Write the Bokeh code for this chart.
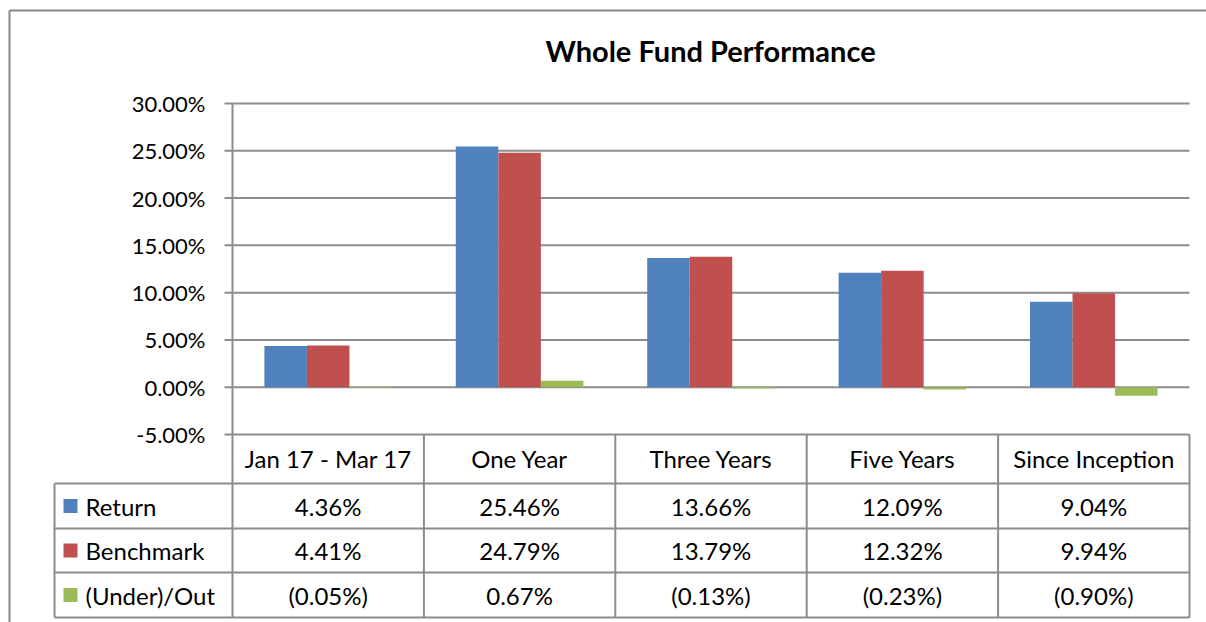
from bokeh.plotting import figure
from bokeh.models import Range1d
from bokeh.core.properties import value
from bokeh.embed import file_html
from bokeh.resources import INLINE

# ---------------- data ----------------
title = "Whole Fund Performance"
categories = ["Jan 17 - Mar 17", "One Year", "Three Years", "Five Years", "Since Inception"]
series_names = ["Return", "Benchmark", "(Under)/Out"]
return_vals = [4.36, 25.46, 13.66, 12.09, 9.04]
benchmark_vals = [4.41, 24.79, 13.79, 12.32, 9.94]
under_out_vals = [-0.05, 0.67, -0.13, -0.23, -0.90]
y_ticks = [-5, 0, 5, 10, 15, 20, 25, 30]
colors = ["#4F81BD", "#C0504D", "#9BBB59"]

# ---------------- layout ----------------
W, H = 1206, 622
X_LEFT = 232.0        # px of plot-area left edge
PX_PER_CAT = 191.4
Y_TOP = 103.0         # px of 30% line
PX_PER_PCT = 9.457
Y_MAX = 30.0
FONT = value("Lato")
GRID = "#8c8c8c"


def sx(px):
    return (px - X_LEFT) / PX_PER_CAT


def sy(py):
    return Y_MAX - (py - Y_TOP) / PX_PER_PCT


p = figure(width=W, height=H, output_backend="svg", toolbar_location=None,
           x_range=Range1d(sx(0), sx(W)), y_range=Range1d(sy(H), sy(0)),
           x_axis_location=None, y_axis_location=None, min_border=0,
           tools="")
p.grid.visible = False
p.outline_line_color = None
p.background_fill_color = "white"
p.border_fill_color = "white"

n = len(categories)
ymin, ymax = min(y_ticks), max(y_ticks)

# outer frame (left / top edges visible)
p.segment([sx(9)], [sy(H)], [sx(9)], [sy(10)], line_color="#888888", line_width=2)
p.segment([sx(9)], [sy(10)], [sx(W)], [sy(10)], line_color="#888888", line_width=2)

# gridlines and ticks
p.segment([0] * len(y_ticks), y_ticks, [n] * len(y_ticks), y_ticks,
          line_color=GRID, line_width=2)
p.segment([sx(X_LEFT - 8)] * len(y_ticks), y_ticks, [0] * len(y_ticks), y_ticks,
          line_color=GRID, line_width=2)
p.text(x=[sx(X_LEFT - 27)] * len(y_ticks), y=y_ticks,
       text=[f"{t:.2f}%" for t in y_ticks], text_align="right",
       text_baseline="middle", text_font=FONT, text_font_size="22px",
       text_color="black")

# bars
bw = 1 / 4.5
series = [return_vals, benchmark_vals, under_out_vals]
for k, vals in enumerate(series):
    xs = [i + 0.5 + (k - 1) * bw for i in range(n)]
    p.vbar(x=xs, width=bw, top=vals, bottom=0, fill_color=colors[k],
           line_color=None)

# axis line (vertical) through plot area and table
row_px = [Y_TOP + (Y_MAX - ymin) * PX_PER_PCT, 483, 528, 572, 617]
rows_y = [sy(r) for r in row_px]
p.segment([0], [ymax], [0], [rows_y[-1]], line_color=GRID, line_width=2)

# table verticals
for i in range(1, n + 1):
    p.segment([i], [ymin], [i], [rows_y[-1]], line_color=GRID, line_width=2)
leg_left = sx(54)
p.segment([leg_left], [rows_y[1]], [leg_left], [rows_y[-1]], line_color=GRID, line_width=2)
# table horizontals
for r in rows_y[1:]:
    p.segment([leg_left], [r], [n], [r], line_color=GRID, line_width=2)

# header text
hdr_y = (rows_y[0] + rows_y[1]) / 2
p.text(x=[i + 0.5 for i in range(n)], y=[hdr_y] * n, text=categories,
       text_align="center", text_baseline="middle", text_font=FONT,
       text_font_size="24px", text_color="black")


def fmt(v):
    return f"{v:.2f}%" if v >= 0 else f"({-v:.2f}%)"


for k, vals in enumerate(series):
    yc = (rows_y[k + 1] + rows_y[k + 2]) / 2
    p.text(x=[i + 0.5 for i in range(n)], y=[yc] * n, text=[fmt(v) for v in vals],
           text_align="center", text_baseline="middle", text_font=FONT,
           text_font_size="24px", text_color="black")
    p.rect(x=[sx(70)], y=[yc], width=14, height=14, width_units="screen",
           height_units="screen", fill_color=colors[k], line_color=None)
    p.text(x=[sx(85)], y=[yc], text=[series_names[k]], text_align="left",
           text_baseline="middle", text_font=FONT, text_font_size="24px",
           text_color="black")

# title
p.text(x=[sx(710)], y=[sy(50)], text=[title], text_align="center",
       text_baseline="middle", text_font=FONT, text_font_size="29px",
       text_font_style="bold", text_color="black")

open("out.html", "w").write(file_html(p, INLINE))
